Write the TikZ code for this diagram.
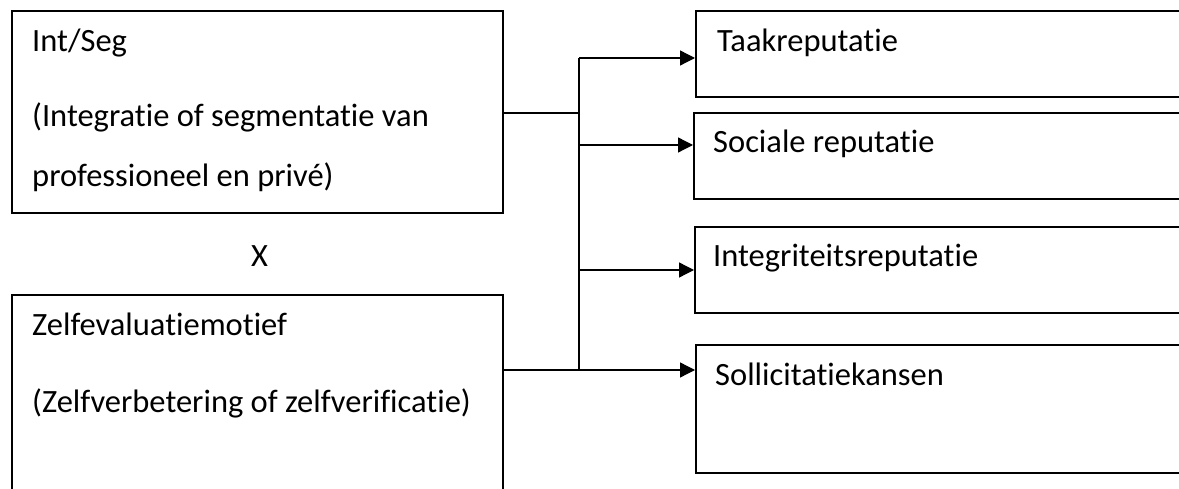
\documentclass[tikz,border=0pt]{standalone}
\usepackage{fontspec}
\setmainfont{Carlito}[Ligatures={NoCommon,NoContextual},RawFeature={-liga;-clig;-dlig}]
\usetikzlibrary{arrows.meta}
\begin{document}
\begin{tikzpicture}[x=1pt,y=-1pt,
  box/.style={draw=black,line width=2pt,rectangle,inner sep=0pt,anchor=north west},
  txt/.style={anchor=base west,inner sep=0pt,font=\fontsize{32.5}{39}\selectfont},
  conn/.style={draw=black,line width=1.3pt},
  arr/.style={conn,-{Triangle[length=15pt,width=15pt]}}]
\useasboundingbox (0,0) rectangle (1179,489);
\clip (0,0) rectangle (1179,489);
\fill[white] (0,0) rectangle (1179,489);
% left boxes
\node[box,minimum width=491pt,minimum height=202pt] (box1) at (11,10) {};
\node[box,minimum width=491pt,minimum height=220pt] (box2) at (11,294) {};
\node[txt] (t1a) at (32,52) {Int/Seg};
\node[txt] (t1b) at (32,127) {(Integratie of segmentatie van};
\node[txt] (t1c) at (32,187) {professioneel en privé)};
\node[txt,anchor=base] (x) at (259.5,267) {X};
\node[txt] (t2a) at (32,335) {Zelfevaluatiemotief};
\node[txt] (t2b) at (32,412) {(Zelfverbetering of zelfverificatie)};
% right boxes
\node[box,minimum width=500pt,minimum height=86pt] (taak) at (695,10) {};
\node[box,minimum width=500pt,minimum height=86pt] (soc) at (693,112) {};
\node[box,minimum width=500pt,minimum height=86pt] (integ) at (694,226) {};
\node[box,minimum width=500pt,minimum height=128pt] (soll) at (695,344) {};
\node[txt] (r1) at (717,52) {Taakreputatie};
\node[txt] (r2) at (713,153) {Sociale reputatie};
\node[txt] (r3) at (713,267) {Integriteitsreputatie};
\node[txt] (r4) at (715,385) {Sollicitatiekansen};
% connectors
\coordinate (j1) at (579,113);
\coordinate (b1) at (579,58);
\coordinate (b2) at (579,145);
\coordinate (b3) at (579,270);
\coordinate (b4) at (579,370);
\draw[conn] (box1.east |- j1) -- (j1);
\draw[conn] (b1) -- (b4);
\draw[arr] (b1) -- (b1 -| taak.west);
\draw[arr] (b2) -- (b2 -| soc.west);
\draw[arr] (b3) -- (b3 -| integ.west);
\draw[arr] (box2.east |- b4) -- (b4 -| soll.west);
\end{tikzpicture}
\end{document}
